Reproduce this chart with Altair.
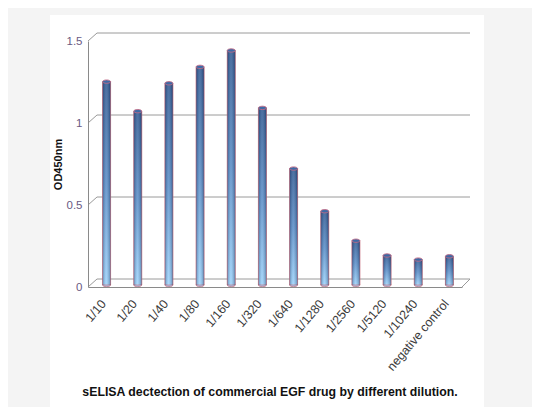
import altair as alt
import pandas as pd

categories = ["1/10", "1/20", "1/40", "1/80", "1/160", "1/320", "1/640",
              "1/1280", "1/2560", "1/5120", "1/10240", "negative control"]
values = [1.24, 1.06, 1.23, 1.33, 1.43, 1.08, 0.71, 0.45, 0.27, 0.18, 0.155, 0.175]
grid_values = [0, 0.5, 1, 1.5]
title_text = "sELISA dectection of commercial EGF drug by different dilution."

df = pd.DataFrame({"cat": categories, "od": values, "zero": [0] * len(values)})
gdf = pd.DataFrame({"v": grid_values})
edge = pd.DataFrame({"v": [0]})
tdf = pd.DataFrame({"t": [title_text]})

W, H = 374, 246
DX, DY = 9, -8

xenc = alt.X("cat:N", sort=categories, title=None,
             scale=alt.Scale(paddingInner=0, paddingOuter=0),
             axis=alt.Axis(labelAngle=-50, labelAlign="right", labelBaseline="middle",
                           labelFontSize=12.5, labelColor="#3a3a3a",
                           labelFont="Liberation Sans Narrow, Liberation Sans, Arial",
                           ticks=False, domainColor="#8a8a8a", labelPadding=14,
                           labelOverlap=False, labelBound=False, zindex=1))
yscale = alt.Scale(domain=[0, 1.5], nice=False)
yenc = alt.Y("od:Q", scale=yscale, title="OD450nm",
             axis=alt.Axis(values=grid_values, labelExpr="'' + datum.value",
                           labelColor="#6a5a82", labelFontSize=11.5,
                           labelFont="Liberation Sans Narrow, Liberation Sans, Arial",
                           ticks=False, labelPadding=6, grid=False,
                           domainColor="#8a8a8a", titleFontSize=11,
                           titleFontWeight="bold", titleColor="#111",
                           titleFont="Liberation Sans, Arial", titlePadding=3, zindex=1))

panel_bg = alt.Chart(edge).mark_rect(fill="#f4f4f4", stroke="#d8d8d8", strokeWidth=1).encode(
    x=alt.value(-81), x2=alt.value(480), y=alt.value(-34), y2=alt.value(400))
panel = alt.Chart(edge).mark_rect(fill="white").encode(
    x=alt.value(-38), x2=alt.value(396), y=alt.value(-26), y2=alt.value(367))

grid = alt.Chart(gdf).mark_rule(color="#9a9a9a", strokeWidth=1, yOffset=DY, y2Offset=DY).encode(
    x=alt.value(DX), x2=alt.value(W + DX - 1),
    y=alt.Y("v:Q", scale=yscale), y2="v:Q")
diag = alt.Chart(gdf).mark_rule(color="#9a9a9a", strokeWidth=1, y2Offset=DY).encode(
    x=alt.value(0), x2=alt.value(DX),
    y=alt.Y("v:Q", scale=yscale), y2="v:Q")
diag_r = alt.Chart(edge).mark_rule(color="#9a9a9a", strokeWidth=1, y2Offset=DY).encode(
    x=alt.value(W), x2=alt.value(W + DX - 1),
    y=alt.Y("v:Q", scale=yscale), y2="v:Q")

bar_grad = alt.Gradient(gradient="linear", x1=0, y1=0, x2=0, y2=1,
                        stops=[alt.GradientStop(color="#24508c", offset=0),
                               alt.GradientStop(color="#4f86c4", offset=0.5),
                               alt.GradientStop(color="#96d0fb", offset=1)])
shade_grad = alt.Gradient(gradient="linear", x1=0, y1=0, x2=1, y2=0,
                          stops=[alt.GradientStop(color="rgba(10,30,70,0.35)", offset=0),
                                 alt.GradientStop(color="rgba(255,255,255,0.18)", offset=0.45),
                                 alt.GradientStop(color="rgba(10,30,70,0.4)", offset=1)])

bars = alt.Chart(df).mark_bar(size=8, color=bar_grad, stroke="#c8707e", strokeWidth=0.8,
                              xOffset=3, yOffset=-2, y2Offset=-2).encode(
    x=xenc, y=yenc, y2="zero:Q")
shade = alt.Chart(df).mark_bar(size=8, color=shade_grad, xOffset=3, yOffset=-2, y2Offset=-2).encode(
    x=alt.X("cat:N", sort=categories), y=alt.Y("od:Q", scale=yscale), y2="zero:Q")

ellipse = "M -1 0 A 1 0.42 0 1 1 1 0 A 1 0.42 0 1 1 -1 0 Z"
caps = alt.Chart(df).mark_point(shape=ellipse, size=64, filled=True, fill="#3d6aa6",
                                stroke="#c06a86", strokeWidth=0.9, opacity=1,
                                xOffset=3, yOffset=-2).encode(
    x=alt.X("cat:N", sort=categories), y=alt.Y("od:Q", scale=yscale))
bottoms = alt.Chart(df).mark_point(shape=ellipse, size=64, filled=True, fill="#96d0fb",
                                   stroke="#c8707e", strokeWidth=0.8, opacity=1,
                                   xOffset=3, yOffset=-2).encode(
    x=alt.X("cat:N", sort=categories), y=alt.Y("zero:Q", scale=yscale))

title = alt.Chart(tdf).mark_text(fontSize=12.3, fontWeight="bold", color="#111",
                                 font="Liberation Sans Narrow, Liberation Sans, Arial",
                                 align="center", baseline="middle").encode(
    text="t:N", x=alt.value(182), y=alt.value(351))

chart = alt.layer(panel_bg, panel, grid, diag, diag_r, bottoms, bars, shade, caps, title).properties(
    width=W, height=H,
    autosize=alt.AutoSizeParams(type="none"),
    padding={"left": 80, "top": 33, "right": 70, "bottom": 120},
    background="white"
).configure_view(stroke=None)

chart.save("out.html", embed_options={"renderer": "svg", "actions": False})
